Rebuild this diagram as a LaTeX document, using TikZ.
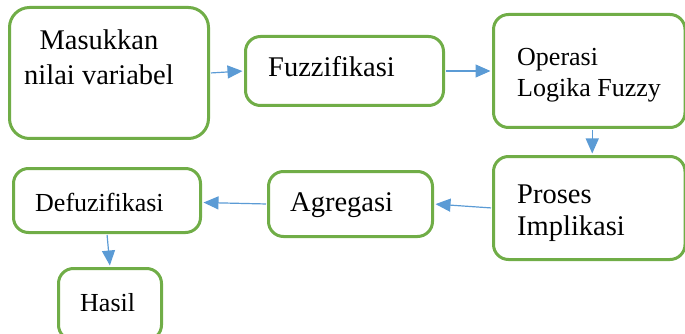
\documentclass[tikz,border=0pt]{standalone}
\usepackage{fontspec}
\setmainfont{Liberation Serif}
\usetikzlibrary{arrows.meta}
\definecolor{boxgreen}{HTML}{70AD47}
\definecolor{arrowblue}{HTML}{5B9BD5}
\begin{document}
\begin{tikzpicture}[x=1pt,y=-1pt,
  box/.style={draw=boxgreen, line width=3pt, rounded corners=15pt, fill=white, inner sep=0pt},
  conn/.style={draw=arrowblue, line width=1.2pt, shorten >=1.5pt, shorten <=1pt, -{Triangle[length=15pt,width=13pt]}},
  big/.style={font=\fontsize{28.5}{34}\selectfont, inner sep=0pt, anchor=base west},
  bigc/.style={font=\fontsize{28.5}{34}\selectfont, inner sep=0pt, anchor=base},
  small/.style={font=\fontsize{26}{31}\selectfont, inner sep=0pt, anchor=base west}]
\useasboundingbox (0,0) rectangle (685,334);
% boxes
\node[box, rounded corners=20pt, minimum width=199pt, minimum height=131pt] (b1) at (109,73) {};
\node[box, minimum width=198pt, minimum height=69pt] (b2) at (344.5,71) {};
\node[box, minimum width=191.5pt, minimum height=113pt] (b3) at (589.25,71) {};
\node[box, minimum width=191.5pt, minimum height=103pt] (b4) at (589.25,208) {};
\node[box, minimum width=164pt, minimum height=65pt] (b5) at (350.5,204) {};
\node[box, minimum width=187pt, minimum height=64pt] (b6) at (107,200.5) {};
\node[box, minimum width=103pt, minimum height=71.5pt] (b7) at (110,304.25) {};
% texts
\node[bigc] (t1a) at (99,50) {Masukkan};
\node[bigc] (t1b) at (99,85) {nilai variabel};
\node[big] (t2) at (268,77) {Fuzzifikasi};
\node[small] (t3a) at (517,65.5) {Operasi};
\node[small] (t3b) at (517,97) {Logika Fuzzy};
\node[big] (t4a) at (517,203) {Proses};
\node[big] (t4b) at (517,235) {Implikasi};
\node[big] (t5) at (290,211.5) {Agregasi};
\node[small] (t6) at (35,211.5) {Defuzifikasi};
\node[small] (t7) at (80,311.5) {Hasil};
% connectors
\draw[conn] (b1.east) -- (b2.west);
\draw[conn] (b2.east) -- (b3.west);
\draw[conn] ([xshift=3pt]b3.south) -- ([xshift=3pt]b4.north);
\draw[conn] (b4.west) -- (b5.east);
\draw[conn] (b5.west) -- ([yshift=-2pt]b6.east);
\draw[conn] (b6.south) -- (b7.north);
\end{tikzpicture}
\end{document}
